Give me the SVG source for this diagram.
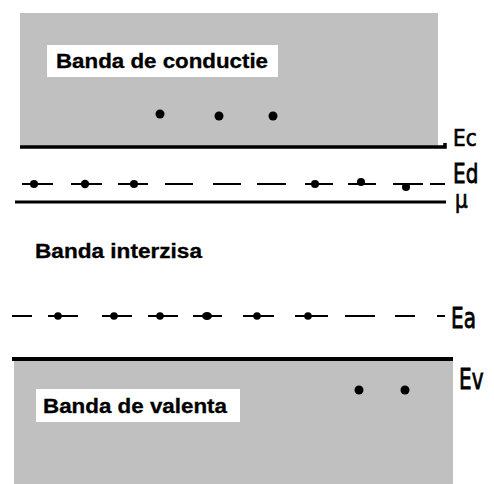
<svg xmlns="http://www.w3.org/2000/svg" width="494" height="484" viewBox="0 0 494 484">
  <style>
    .band { fill: #c0c0c0; }
    .tag { fill: #ffffff; }
    .title { font-family: "Liberation Sans", Arial, sans-serif; font-weight: bold; font-size: 20px; fill: #000; stroke: #000; stroke-width: 0.3; }
    .lvl { font-family: "DejaVu Sans", "Liberation Sans", sans-serif; font-size: 20px; fill: #000; stroke: #000; stroke-width: 0.6; }
    .solid { stroke: #000; fill: none; }
    .dash { stroke: #000; stroke-width: 2; fill: none; }
    .dot { fill: #000; }
  </style>
  <rect width="494" height="484" fill="#ffffff"/>

  <!-- conduction band -->
  <g id="conduction-band">
    <rect class="band" x="20" y="13" width="418" height="134"/>
    <rect class="tag" x="47" y="45" width="231" height="32"/>
    <text class="title" x="56" y="68" textLength="212" lengthAdjust="spacingAndGlyphs">Banda de conductie</text>
    <circle class="dot" cx="160" cy="114" r="4.5"/>
    <circle class="dot" cx="219" cy="116" r="4.5"/>
    <circle class="dot" cx="273" cy="116" r="4.5"/>
  </g>

  <!-- valence band -->
  <g id="valence-band">
    <rect class="band" x="14" y="359" width="439" height="125"/>
    <rect class="tag" x="36" y="389" width="204" height="33"/>
    <text class="title" x="43" y="413" textLength="184" lengthAdjust="spacingAndGlyphs">Banda de valenta</text>
    <circle class="dot" cx="359" cy="390" r="4.5"/>
    <circle class="dot" cx="405" cy="390" r="4.5"/>
  </g>

  <!-- band gap label -->
  <g id="gap">
    <text class="title" x="35" y="258" textLength="167" lengthAdjust="spacingAndGlyphs">Banda interzisa</text>
  </g>

  <!-- energy levels -->
  <g id="levels">
    <path id="Ec" class="solid" stroke-width="3.5" d="M20 147H445V143"/>
    <line id="mu" class="solid" stroke-width="3" x1="15" y1="202" x2="446" y2="202"/>
    <line id="Ev" class="solid" stroke-width="4" x1="12" y1="359" x2="453" y2="359"/>
    <path id="Ed" class="dash" d="M22 184H53 M71 184H102 M118 184H148 M165 184H193 M213 184H241 M257 184H286 M305 184H333 M348 184H376 M393 184H423 M430 184H445"/>
    <path id="Ea" class="dash" d="M12 316H32 M48 316H78 M102 316H132 M148 316H178 M193 316H222 M243 316H274 M295 316H328 M345 316H375 M395 316H415 M437 316H445"/>
  </g>

  <!-- donor electrons -->
  <g id="donors">
    <circle class="dot" cx="34" cy="184" r="4"/>
    <circle class="dot" cx="85" cy="184" r="4.2"/>
    <circle class="dot" cx="134" cy="184" r="4"/>
    <circle class="dot" cx="315" cy="184" r="4"/>
    <circle class="dot" cx="361" cy="182" r="4"/>
    <circle class="dot" cx="406" cy="187" r="4"/>
  </g>

  <!-- acceptor electrons -->
  <g id="acceptors">
    <circle class="dot" cx="58" cy="316" r="3.8"/>
    <circle class="dot" cx="114" cy="316" r="3.8"/>
    <circle class="dot" cx="160" cy="316" r="3.8"/>
    <ellipse class="dot" cx="207" cy="316" rx="5" ry="4"/>
    <circle class="dot" cx="257" cy="316" r="3.8"/>
    <circle class="dot" cx="308" cy="316" r="3.8"/>
  </g>

  <!-- level names -->
  <g id="level-labels">
    <text class="lvl" transform="translate(453,146) scale(1,1.15)">Ec</text>
    <text class="lvl" transform="translate(453,183) scale(1,1.3)">Ed</text>
    <text class="lvl" transform="translate(455,208) scale(1,1.2)">μ</text>
    <text class="lvl" transform="translate(451,328) scale(1,1.4)">Ea</text>
    <text class="lvl" transform="translate(459,389) scale(1,1.4)">Ev</text>
  </g>
</svg>
